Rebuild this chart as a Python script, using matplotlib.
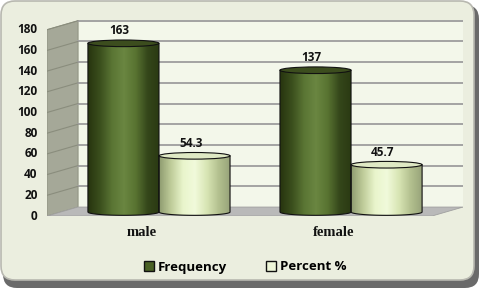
import numpy as np
import matplotlib.pyplot as plt
from matplotlib.patches import Polygon, Ellipse, FancyBboxPatch, PathPatch, Patch
from matplotlib.path import Path
from matplotlib.colors import LinearSegmentedColormap

categories = ["male", "female"]
frequency = [163, 137]
percent = [54.3, 45.7]
series_names = ["Frequency", "Percent %"]
yticks = [0, 20, 40, 60, 80, 100, 120, 140, 160, 180]

freq_cmap = LinearSegmentedColormap.from_list(
    "freq", ["#27350f", "#3b4f1d", "#5a7534", "#6a8641", "#587331", "#34461a", "#2a3912"])
pct_cmap = LinearSegmentedColormap.from_list(
    "pct", ["#8f9c70", "#bfcc9a", "#e9f5cc", "#f1fadb", "#d8e5b4", "#b3c08f", "#96a278"])

FONT = "Open Sans"

fig = plt.figure(figsize=(4.81, 2.89), dpi=100)
fig.patch.set_facecolor("white")

# outer rounded frame
bg = fig.add_axes([0, 0, 1, 1])
bg.set_xlim(0, 481)
bg.set_ylim(289, 0)
bg.axis("off")
bg.add_patch(FancyBboxPatch((3, 5), 476, 283, boxstyle="round,pad=0,rounding_size=14",
                            fc="#6a6a6a", ec="none"))
bg.add_patch(FancyBboxPatch((1, 1), 473, 279, boxstyle="round,pad=0,rounding_size=14",
                            fc="#ebeedf", ec="#b8b8b0", lw=1.2))

# plot area
ax = fig.add_axes([47 / 481, (289 - 216) / 289, (463 - 47) / 481, (216 - 19) / 289])
ax.axis("off")
x0, x1 = -0.583, 1.583
y_front, y_back, y_top = -3.85, 4.8, 186.5
ax.set_xlim(x0, x1)
ax.set_ylim(y_front, y_top)
dx = 0.161

# back wall, side wall, floor
ax.add_patch(Polygon([(x0 + dx, y_back), (x1, y_back), (x1, 180 + y_back), (x0 + dx, 180 + y_back)],
                     closed=True, fc="#f3f7ea", ec="#c8ccbc", lw=0.6, zorder=0))
ax.add_patch(Polygon([(x0, y_front), (x0 + dx, y_back), (x0 + dx, 180 + y_back), (x0, 180 + y_front)],
                     closed=True, fc="#a5a898", ec="#8d907f", lw=0.6, zorder=0))
ax.add_patch(Polygon([(x0, y_front), (x1 - dx, y_front), (x1, y_back), (x0 + dx, y_back)],
                     closed=True, fc="#b9b9b9", ec="#a0a0a0", lw=0.6, zorder=1))
for v in yticks[1:]:
    ax.plot([x0 + dx, x1], [v + y_back, v + y_back], color="#a3a3a3", lw=1.4, zorder=0.5)
    ax.plot([x0, x0 + dx], [v + y_front, v + y_back], color="#8a8d7d", lw=0.8, zorder=0.5)
for v in yticks:
    ax.text(x0 - 0.05, v + y_front, str(v), ha="right", va="center",
            fontsize=8.5, fontweight="bold", family=FONT, color="#111111")

# cylinders
w = 0.37
ry = 3.2


def cylinder(cx, value, cmap, top_fc):
    left, right = cx - w / 2, cx + w / 2
    t = np.linspace(np.pi, 2 * np.pi, 40)
    bx = cx + (w / 2) * np.cos(t)
    by = ry * np.sin(t)
    verts = list(zip(bx, by)) + [(right, value), (left, value), (left, 0)]
    path = Path(verts, closed=False)
    ax.add_patch(PathPatch(path, fc="none", ec="#111111", lw=0.8, zorder=4))
    grad = np.linspace(0, 1, 200).reshape(1, -1)
    im = ax.imshow(grad, cmap=cmap, extent=[left, right, -ry, value], aspect="auto",
                   origin="lower", zorder=3, interpolation="bilinear")
    im.set_clip_path(PathPatch(path, transform=ax.transData))
    ax.add_patch(Ellipse((cx, value), w, 2 * ry, fc=top_fc, ec="#111111", lw=0.8, zorder=5))


xs = np.arange(len(categories))
for i in xs:
    cylinder(i - w / 2, frequency[i], freq_cmap, "#3c4d1e")
    cylinder(i + w / 2, percent[i], pct_cmap, "#dfe9c4")
    ax.text(i - w / 2 - 0.02, frequency[i] + 12, str(frequency[i]), ha="center", va="center",
            fontsize=8.5, fontweight="bold", family=FONT, color="#111111")
    ax.text(i + w / 2 - 0.02, percent[i] + 12, str(percent[i]), ha="center", va="center",
            fontsize=8.5, fontweight="bold", family=FONT, color="#111111")
    ax.text(i - dx / 2 - 0.01, y_front - 16, categories[i], ha="center", va="center",
            fontsize=10.5, fontweight="bold", family="Liberation Serif", color="#111111",
            clip_on=False)

handles = [Patch(fc="#4a6125", ec="#111111", lw=1.0),
           Patch(fc="#eef6d8", ec="#111111", lw=1.0)]
fig.legend(handles, series_names, loc="center", bbox_to_anchor=(0.51, 1 - 267 / 289),
           ncol=2, frameon=False, handlelength=0.75, handleheight=0.75,
           handletextpad=0.3, columnspacing=3.0,
           prop={"family": FONT, "weight": "bold", "size": 9.5})

fig.savefig("out.png", dpi=100)
